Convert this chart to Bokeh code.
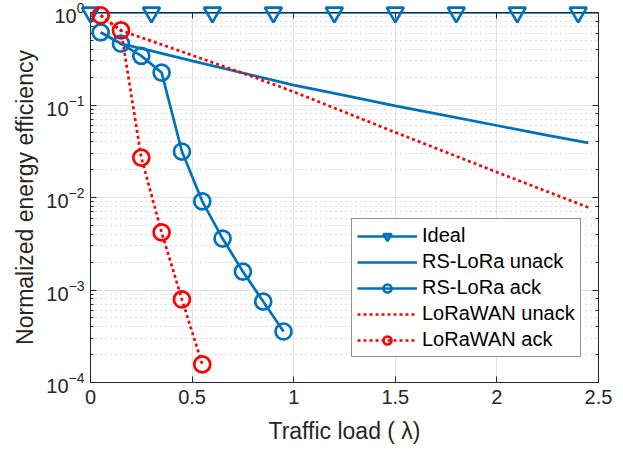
from bokeh.plotting import figure
from bokeh.models import (LinearAxis, LogAxis, SingleIntervalTicker, LogTicker,
                          CustomJSTickFormatter, Legend, LegendItem, Range1d)
from bokeh.embed import file_html
from bokeh.resources import INLINE

# ---- data ----
ideal_line_x = [0.0, 2.5]
ideal_line_y = [1.0, 1.0]
ideal_marker_x = [0.0, 0.3, 0.6, 0.9, 1.2, 1.5, 1.8, 2.1, 2.4]
ideal_marker_y = [1.0, 1.0, 1.0, 1.0, 1.0, 1.0, 1.0, 1.0, 1.0]

rs_unack_x = [0.05, 0.15, 0.3, 0.5, 0.75, 1.0, 1.25, 1.5, 1.75, 2.0, 2.25, 2.45]
rs_unack_y = [0.61, 0.46, 0.385, 0.30, 0.222, 0.164, 0.127, 0.098, 0.0767, 0.060, 0.047, 0.039]

rs_ack_x = [0.05, 0.15, 0.25, 0.35, 0.45, 0.55, 0.65, 0.75, 0.85, 0.95]
rs_ack_y = [0.61, 0.46, 0.34, 0.224, 0.0314, 0.0091, 0.0036, 0.00158, 0.00075, 0.000356]

lw_unack_x = [0.05, 0.15, 0.5, 0.75, 1.0, 1.5, 2.0, 2.45]
lw_unack_y = [0.93, 0.64, 0.345, 0.221, 0.139, 0.0506, 0.0188, 0.0078]

lw_ack_x = [0.05, 0.15, 0.25, 0.35, 0.45, 0.55]
lw_ack_y = [0.93, 0.64, 0.027, 0.0042, 0.00079, 0.000157]

x_tick_labels = {0: "0", 0.5: "0.5", 1: "1", 1.5: "1.5", 2: "2", 2.5: "2.5"}

BLUE = "#0072BD"
RED = "#FF0000"
AX = "#262626"
FONT = "Liberation Sans"

p = figure(width=623, height=451, y_axis_type="log",
           x_range=Range1d(0, 2.5), y_range=Range1d(1e-4, 1.0),
           output_backend="svg", toolbar_location=None,
           min_border_left=90, min_border_right=25, min_border_top=12,
           min_border_bottom=69)
p.frame_width = 508
p.frame_height = 370
p.background_fill_color = "white"
p.border_fill_color = "white"
p.outline_line_color = AX
p.outline_line_width = 1

# axes
p.xaxis.ticker = SingleIntervalTicker(interval=0.5, num_minor_ticks=0)
p.xaxis.major_label_overrides = x_tick_labels
for ax in [p.xaxis[0], p.yaxis[0]]:
    ax.axis_line_color = AX
    ax.major_tick_line_color = AX
    ax.minor_tick_line_color = AX
    ax.major_tick_in = 6
    ax.major_tick_out = 0
    ax.minor_tick_in = 3
    ax.minor_tick_out = 0
    ax.major_label_text_font = FONT
    ax.major_label_text_font_size = "20px"
    ax.major_label_text_color = AX
    ax.axis_label_text_font = FONT
    ax.axis_label_text_font_size = "23px"
    ax.axis_label_text_color = AX
    ax.axis_label_text_font_style = "normal"
p.xaxis.minor_tick_line_color = None
p.xaxis.major_label_standoff = 7
p.yaxis.major_label_standoff = 6
p.xaxis.axis_label = "Traffic load ( λ)"
p.yaxis.axis_label = "Normalized energy efficiency"
p.xaxis.axis_label_standoff = 11
p.yaxis.axis_label_standoff = 5

blank = CustomJSTickFormatter(code="return ''")
top = LinearAxis(ticker=SingleIntervalTicker(interval=0.5, num_minor_ticks=0),
                 formatter=blank, major_tick_in=6, major_tick_out=0,
                 minor_tick_line_color=None, major_tick_line_color=AX,
                 axis_line_color=AX, major_label_standoff=0)
right = LogAxis(ticker=LogTicker(), formatter=blank, major_tick_in=6,
                major_tick_out=0, minor_tick_in=3, minor_tick_out=0,
                major_tick_line_color=AX, minor_tick_line_color=AX,
                axis_line_color=AX, major_label_standoff=0)
p.add_layout(top, "above")
p.add_layout(right, "right")

# grids
p.xgrid.grid_line_color = "#e3e3e3"
p.ygrid.grid_line_color = "#e3e3e3"
p.ygrid.minor_grid_line_color = "#bdbdbd"
p.ygrid.minor_grid_line_dash = "1 4"
p.ygrid.minor_grid_line_width = 1

# series
LW = 2.7
r_ideal_l = p.line(ideal_line_x, ideal_line_y, line_color=BLUE, line_width=LW)
r_ideal_m = p.scatter(ideal_marker_x, ideal_marker_y, marker="inverted_triangle",
                      size=17, line_color=BLUE, line_width=LW, fill_alpha=0,
                      level="overlay")
r_rsu = p.line(rs_unack_x, rs_unack_y, line_color=BLUE, line_width=LW)
r_rsa_l = p.line(rs_ack_x, rs_ack_y, line_color=BLUE, line_width=LW)
r_rsa_m = p.scatter(rs_ack_x, rs_ack_y, marker="circle", size=16,
                    line_color=BLUE, line_width=LW, fill_alpha=0, level="overlay")
r_lwu = p.line(lw_unack_x, lw_unack_y, line_color=RED, line_width=LW,
               line_dash="3 3")
r_lwa_l = p.line(lw_ack_x, lw_ack_y, line_color=RED, line_width=LW,
                 line_dash="3 3")
r_lwa_m = p.scatter(lw_ack_x, lw_ack_y, marker="circle", size=16,
                    line_color=RED, line_width=LW, fill_alpha=0, level="overlay")

legend = Legend(items=[
    LegendItem(label="Ideal", renderers=[r_ideal_l, r_ideal_m]),
    LegendItem(label="RS-LoRa unack", renderers=[r_rsu]),
    LegendItem(label="RS-LoRa ack", renderers=[r_rsa_l, r_rsa_m]),
    LegendItem(label="LoRaWAN unack", renderers=[r_lwu]),
    LegendItem(label="LoRaWAN ack", renderers=[r_lwa_l, r_lwa_m]),
], location=(261, 25))
legend.label_text_font = FONT
legend.label_text_font_size = "20px"
legend.label_text_color = "black"
legend.glyph_width = 60
legend.glyph_height = 20
legend.label_height = 20
legend.label_standoff = 5
legend.spacing = 3
legend.padding = 5
legend.margin = 0
legend.border_line_color = AX
legend.border_line_width = 1
legend.background_fill_color = "white"
legend.background_fill_alpha = 1
p.add_layout(legend, "center")

open("out.html", "w").write(file_html(p, INLINE))
